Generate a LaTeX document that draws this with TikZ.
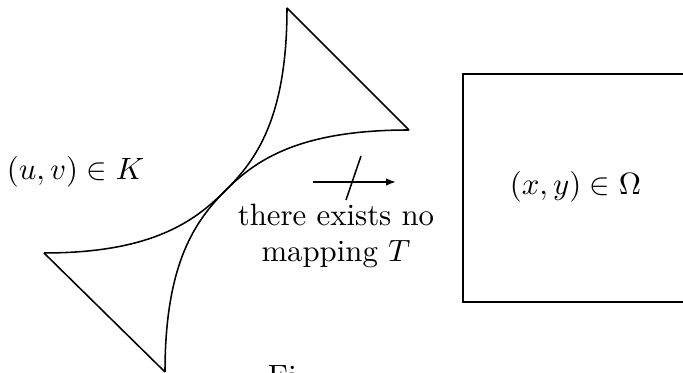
\documentclass[tikz,border=0pt]{standalone}
\usetikzlibrary{arrows.meta}
\begin{document}
\begin{tikzpicture}[x=0.3247pt,y=-0.3247pt,
  edge/.style={line width=0.5pt, line join=miter},
  lbl/.style={inner sep=0pt, outer sep=0pt}]
\useasboundingbox (0,0) rectangle (683,373);
\clip (0,0) rectangle (683,373);
% shape K
\coordinate (top) at (287,8);
\coordinate (ur) at (409,130);
\coordinate (ll) at (44,253);
\coordinate (bot) at (165,372);
\coordinate (c) at (226,190);
\draw[edge] (top) .. controls (287,118) and (256,160) .. (c)
                  .. controls (196,220) and (165,262) .. (bot);
\draw[edge] (ur) .. controls (299,130) and (256,160) .. (c)
                 .. controls (196,220) and (154,253) .. (ll);
\draw[edge] (top) -- (ur);
\draw[edge] (ll) -- (bot);
% labels
\node[lbl] (K) at (75.5,172) {$(u,v)\in K$};
\node[lbl] (O) at (575.5,187) {$(x,y)\in\Omega$};
\node[lbl, align=center] (txt) at (336,236) {there exists no\\ mapping $T$};
% arrow
\coordinate (a1) at (313,182);
\coordinate (a2) at (396,182);
\draw[edge, -{Latex[length=3.2pt,width=2.4pt]}] (a1) -- (a2);
\coordinate (s1) at (346,200);
\coordinate (s2) at (361,156);
\draw[edge] (s1) -- (s2);
% box Omega
\coordinate (b1) at (463,74);
\coordinate (b2) at (700,302);
\draw[edge] (b1) rectangle (b2);
% caption fragment
\node[lbl, anchor=base west] (cap) at (268,387) {Fi};
\end{tikzpicture}
\end{document}
